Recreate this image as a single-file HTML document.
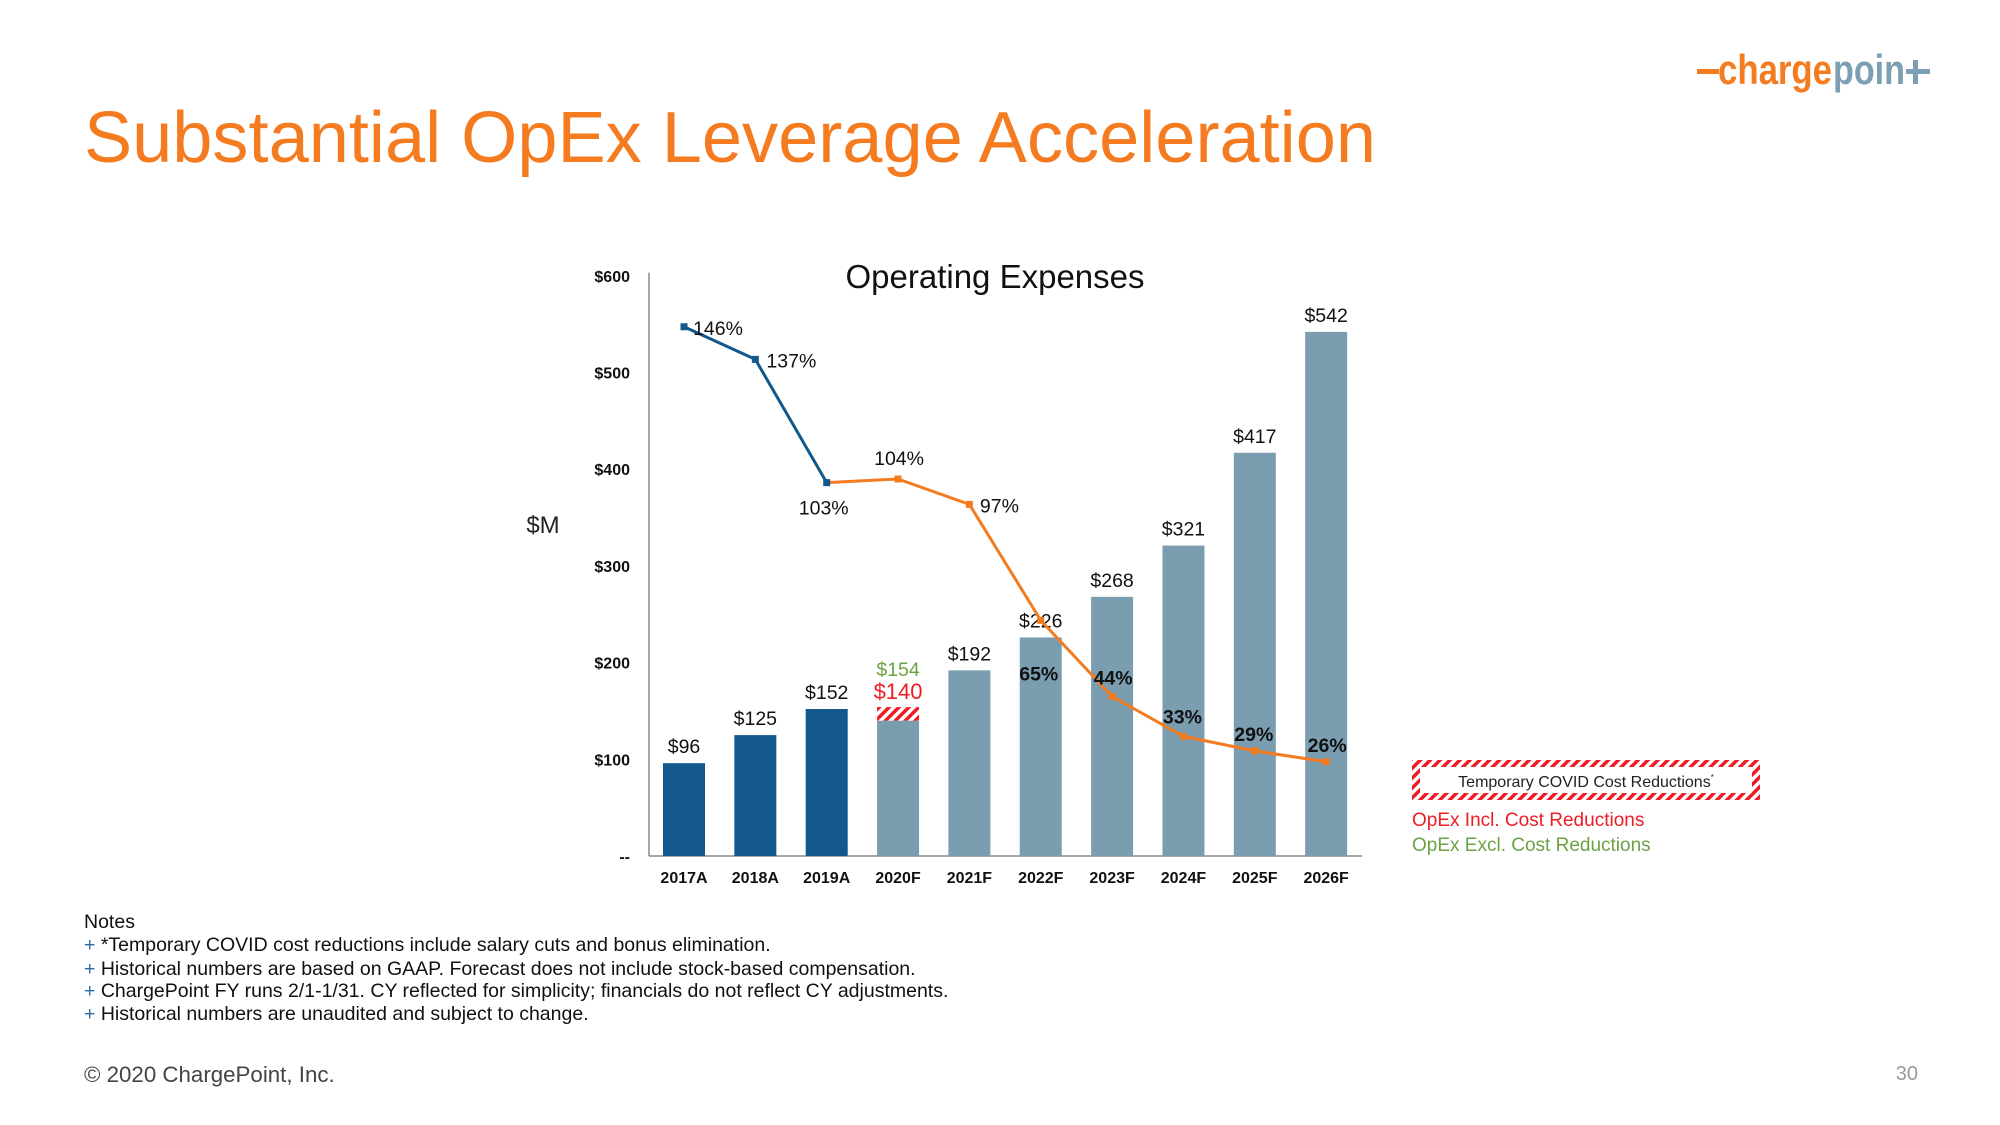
<!DOCTYPE html>
<html><head><meta charset="utf-8"><style>
html,body{margin:0;padding:0;background:#fff;}
svg{display:block;font-family:"Liberation Sans",Arial,sans-serif;}
</style></head><body>
<svg id="page" width="2000" height="1125" viewBox="0 0 2000 1125" xmlns="http://www.w3.org/2000/svg">
<defs>
<pattern id="hatch" width="7" height="7" patternUnits="userSpaceOnUse" patternTransform="rotate(45)">
<rect width="7" height="7" fill="#fff"/><rect width="3.5" height="7" fill="#ee1c25"/>
</pattern>
</defs>
<text x="84" y="162" font-size="72" fill="#F47B20" textLength="1292" lengthAdjust="spacingAndGlyphs">Substantial OpEx Leverage Acceleration</text>
<g font-weight="bold" font-size="42">
<rect x="1697" y="69" width="22" height="5" fill="#F47B20"/>
<text x="1718" y="84" fill="#F47B20" textLength="114" lengthAdjust="spacingAndGlyphs">charge</text>
<text x="1833" y="84" fill="#7C9FB3" textLength="72" lengthAdjust="spacingAndGlyphs">poin</text>
<rect x="1906" y="69" width="24" height="5" fill="#7C9FB3"/>
<rect x="1913" y="60" width="5" height="24" fill="#7C9FB3"/>
</g>
<text x="995" y="288" font-size="33" text-anchor="middle" fill="#111">Operating Expenses</text>
<text x="543" y="533" font-size="24" text-anchor="middle" fill="#222">$M</text>
<g id="chart"></g>
<g>
<rect x="1412" y="760" width="348" height="40" fill="url(#hatch)"/>
<rect x="1420" y="767" width="332" height="26" fill="#fff"/>
<text x="1586" y="787" font-size="16" text-anchor="middle" fill="#222">Temporary COVID Cost Reductions<tspan font-size="8" dy="-7">*</tspan></text>
<text x="1412" y="826" font-size="19" fill="#ee1c25">OpEx Incl. Cost Reductions</text>
<text x="1412" y="851" font-size="19" fill="#6BA243">OpEx Excl. Cost Reductions</text>
</g>
<g font-size="19.5" fill="#111">
<text x="84" y="928">Notes</text>
<text x="84" y="951"><tspan fill="#2a6fa8">+ </tspan>*Temporary COVID cost reductions include salary cuts and bonus elimination.</text>
<text x="84" y="975"><tspan fill="#2a6fa8">+ </tspan>Historical numbers are based on GAAP. Forecast does not include stock-based compensation.</text>
<text x="84" y="997"><tspan fill="#2a6fa8">+ </tspan>ChargePoint FY runs 2/1-1/31. CY reflected for simplicity; financials do not reflect CY adjustments.</text>
<text x="84" y="1020"><tspan fill="#2a6fa8">+ </tspan>Historical numbers are unaudited and subject to change.</text>
</g>
<text x="84" y="1082" font-size="22.3" fill="#444">© 2020 ChargePoint, Inc.</text>
<text x="1918" y="1080" font-size="20" text-anchor="end" fill="#999">30</text>
</svg>
<script>
const categories=["2017A","2018A","2019A","2020F","2021F","2022F","2023F","2024F","2025F","2026F"];
const opex=[96,125,152,140,192,226,268,321,417,542];
const opexExcl=[null,null,null,154,null,null,null,null,null,null];
const pct=[146,137,103,104,97,65,44,33,29,26];
const yTicks=[0,100,200,300,400,500,600];
const yTickLabels=["--","$100","$200","$300","$400","$500","$600"];
const actualCount=3;

const NS="http://www.w3.org/2000/svg";
const g=document.getElementById('chart');
const x0=649,x1=1362,zeroY=856,barW=42;
const yB=v=>zeroY-v*0.967;
const yP=p=>zeroY-p*3.625;
const xC=i=>684+i*71.35;
function mk(t,a,parent){const e=document.createElementNS(NS,t);for(const k in a)e.setAttribute(k,a[k]);(parent||g).appendChild(e);return e;}

let e=mk('line',{x1:x0,y1:yB(600)-3,x2:x0,y2:zeroY,stroke:'#888','stroke-width':1.5});


e=mk('line',{x1:x0,y1:zeroY,x2:x1,y2:zeroY,stroke:'#888','stroke-width':1.5});



yTicks.forEach((v,i)=>{
 const t=mk('text',{x:630,y:yB(v)+6,'font-size':16,'text-anchor':'end',fill:'#111','font-weight':'bold'});
 t.textContent=yTickLabels[i];
 
 
});

categories.forEach((c,i)=>{
 const cx=xC(i);
 const r=mk('rect',{x:cx-barW/2,y:yB(opex[i]),width:barW,height:zeroY-yB(opex[i]),fill:i<actualCount?'#12588C':'#7A9DB0'});
 
 
 const lab=mk('text',{x:cx,y:0,'font-size':19.5,'text-anchor':'middle',fill:'#111'});
 if(opexExcl[i]!=null){
  const h=mk('rect',{x:cx-barW/2,y:yB(opexExcl[i]),width:barW,height:yB(opex[i])-yB(opexExcl[i]),fill:'url(#hatch)'});
  
  
  lab.setAttribute('y',yB(opexExcl[i])-8);lab.setAttribute('fill','#ee1c25');lab.setAttribute('font-size',22);
  lab.textContent='$'+opex[i];
  const l2=mk('text',{x:cx,y:yB(opexExcl[i])-31,'font-size':19.5,'text-anchor':'middle',fill:'#6BA243'});
  l2.textContent='$'+opexExcl[i];
  
  
 } else {
  lab.setAttribute('y',yB(opex[i])-10);
  lab.textContent='$'+opex[i];
 }
 
 
 const cl=mk('text',{x:cx,y:883,'font-size':16,'text-anchor':'middle',fill:'#111','font-weight':'bold'});
 cl.textContent=c;
 
 
});

for(let i=0;i<pct.length-1;i++){
 const s=mk('line',{x1:xC(i),y1:yP(pct[i]),x2:xC(i+1),y2:yP(pct[i+1]),stroke:i+1<actualCount?'#12588C':'#F47B20','stroke-width':3});
 
 
}
const off=[[34,8],[36,8],[-3,32],[1,-14],[30,8],[-2,43],[1,-12],[-1,-13],[-1,-10],[1,-10]];
pct.forEach((p,i)=>{
 const m=mk('rect',{x:xC(i)-3.5,y:yP(p)-3.5,width:7,height:7,fill:i<actualCount?'#12588C':'#F47B20'});
 
 
 const ty=(i==5)?yB(opex[i])+off[i][1]:yP(p)+off[i][1];
 const t=mk('text',{x:xC(i)+off[i][0],y:ty,'font-size':19.5,'text-anchor':'middle',fill:'#111'});
 if(i>=5) t.setAttribute('font-weight','bold');
 t.textContent=p+'%';
 
 
});
</script>
</body></html>
